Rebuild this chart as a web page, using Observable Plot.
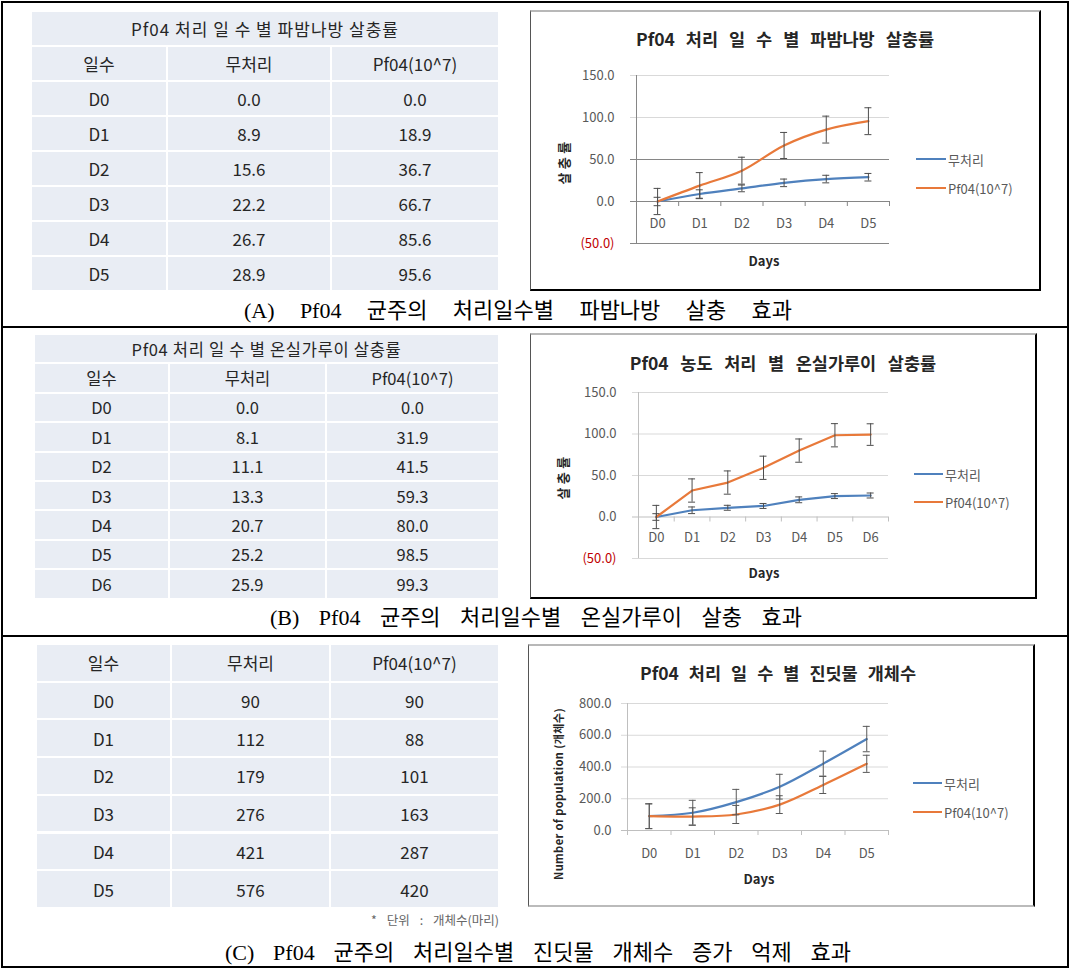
<!DOCTYPE html>
<html><head><meta charset="utf-8">
<script src="https://cdn.jsdelivr.net/npm/d3@7"></script>
<script src="https://cdn.jsdelivr.net/npm/@observablehq/plot@0.6"></script>
<style>
html,body{margin:0;padding:0;background:#fff;}
body{width:1072px;height:969px;position:relative;overflow:hidden;font-family:"Noto Sans CJK KR","Noto Sans",sans-serif;color:#262626;}
.a{position:absolute;white-space:nowrap;box-sizing:border-box;}
.cell{position:absolute;background:#e9edf4;display:flex;align-items:center;justify-content:center;white-space:nowrap;}
</style></head><body>
<script>
// ---------- DATA ----------
const header = ["일수", "무처리", "Pf04(10^7)"];
const seriesNames = ["무처리", "Pf04(10^7)"];

const titleA = "Pf04 처리 일 수 별 파밤나방 살충률";
const daysA = ["D0", "D1", "D2", "D3", "D4", "D5"];
const ctrlA = [0.0, 8.9, 15.6, 22.2, 26.7, 28.9];
const pfA = [0.0, 18.9, 36.7, 66.7, 85.6, 95.6];
const ctrlErrA = [5, 5, 4, 4.5, 4.5, 4.5];
const pfErrA = [15.6, 15.5, 16, 15.5, 16, 16];

const tableTitleB = "Pf04 처리 일 수 별 온실가루이 살충률";
const chartTitleB = "Pf04 농도 처리 별 온실가루이  살충률";
const daysB = ["D0", "D1", "D2", "D3", "D4", "D5", "D6"];
const ctrlB = [0.0, 8.1, 11.1, 13.3, 20.7, 25.2, 25.9];
const pfB = [0.0, 31.9, 41.5, 59.3, 80.0, 98.5, 99.3];
const ctrlErrB = [4, 4, 3, 3, 3.5, 3, 3];
const pfErrB = [14, 14, 14, 14, 14, 14, 13];

const chartTitleC = "Pf04 처리 일 수 별 진딧물 개체수";
const daysC = ["D0", "D1", "D2", "D3", "D4", "D5"];
const ctrlC = [90, 112, 179, 276, 421, 576];
const pfC = [90, 88, 101, 163, 287, 420];
const ctrlErrC = [78, 78, 80, 78, 79, 80];
const pfErrC = [78, 55, 57, 56, 54, 54];
const noteC = "* 단위 : 개체수(마리)";

const yTicksPct = [-50, 0, 50, 100, 150];
const yTicksPop = [0, 200, 400, 600, 800];

const captionA = "(A) Pf04 균주의 처리일수별 파밤나방 살충 효과";
const captionB = "(B) Pf04 균주의 처리일수별 온실가루이 살충 효과";
const captionC = "(C) Pf04 균주의 처리일수별 진딧물 개체수 증가 억제 효과";
const yLabelPct = "살충률";
const yLabelPop = "Number of population (개체수)";
const xLabel = "Days";

// ---------- HELPERS ----------
const BLUE = "#4f81bd", ORANGE = "#e8793a";
function el(style, text, parent = document.body) {
  const e = document.createElement("div");
  e.className = "a";
  Object.assign(e.style, style);
  if (text != null) e.textContent = text;
  parent.appendChild(e);
  return e;
}
function fitWidth(e, target, mode) {
  const w = e.getBoundingClientRect().width;
  const t = e.textContent;
  if (mode === "word") {
    const n = (t.match(/ /g) || []).length;
    if (n) e.style.wordSpacing = ((target - w) / n) + "px";
  } else {
    const n = t.length;
    e.style.letterSpacing = ((target - w) / n) + "px";
  }
}
function centerAt(e, cx, cy) {
  const r = e.getBoundingClientRect();
  e.style.left = (cx - r.width / 2) + "px";
  e.style.top = (cy - r.height / 2) + "px";
}
function textAt(text, cx, cy, style, target, mode) {
  const e = el(Object.assign({left: "0px", top: "0px"}, style), text);
  if (target) fitWidth(e, target, mode);
  centerAt(e, cx, cy);
  return e;
}

// ---------- FRAME ----------
el({left: "1px", top: "1px", width: "1068px", height: "967px", border: "2px solid #000"});
el({left: "1px", top: "326px", width: "1068px", height: "2px", background: "#000"});
el({left: "1px", top: "635px", width: "1068px", height: "2px", background: "#000"});

// ---------- TABLES ----------
function table({left, top, cols, rowH, gap, title, titleW, rows, fontSize}) {
  let y = top;
  const total = cols.reduce((a, b) => a + b, 0) + gap * (cols.length - 1);
  const mk = (x, w, h, txt) => {
    const c = document.createElement("div");
    c.className = "cell";
    Object.assign(c.style, {left: x + "px", top: y + "px", width: w + "px", height: h + "px", fontSize: fontSize + "px"});
    const s = document.createElement("span");
    s.textContent = txt;
    c.appendChild(s);
    document.body.appendChild(c);
    return s;
  };
  if (title) {
    const s = mk(left, total, rowH, title);
    const w = s.getBoundingClientRect().width;
    s.style.letterSpacing = ((titleW - w) / title.length) + "px";
    y += rowH + gap;
  }
  for (const r of rows) {
    let x = left;
    r.forEach((t, k) => { mk(x, cols[k], rowH, t); x += cols[k] + gap; });
    y += rowH + gap;
  }
}
const f1 = v => v.toFixed(1);
table({left: 32, top: 12, cols: [134, 162, 166], rowH: 33, gap: 2, fontSize: 17, title: titleA, titleW: 268,
  rows: [header, ...daysA.map((d, i) => [d, f1(ctrlA[i]), f1(pfA[i])])]});
table({left: 35, top: 335, cols: [133, 155, 171], rowH: 27.4, gap: 2, fontSize: 16.5, title: tableTitleB, titleW: 270,
  rows: [header, ...daysB.map((d, i) => [d, f1(ctrlB[i]), f1(pfB[i])])]});
table({left: 37, top: 645, cols: [133, 157, 167], rowH: 35.7, gap: 2, fontSize: 17, title: null,
  rows: [header, ...daysC.map((d, i) => [d, String(ctrlC[i]), String(pfC[i])])]});
textAt(noteC, 435, 919, {fontSize: "12.5px", color: "#666"}, 128, "word");

// ---------- CAPTIONS ----------
const capStyle = {fontFamily: "'Liberation Serif','DejaVu Serif','Noto Sans CJK KR',serif", fontSize: "22px", color: "#000"};
textAt(captionA, 518, 308, capStyle, 548, "word");
textAt(captionB, 536, 615, capStyle, 532, "word");
textAt(captionC, 538, 950, capStyle, 626, "word");

// ---------- CHARTS ----------
function drawChart(c) {
  el({left: c.x + "px", top: c.y + "px", width: c.w + "px", height: c.h + "px",
      borderTop: "2px solid #b8b8b8", borderLeft: "1px solid #555", borderRight: "2px solid #000",
      borderBottom: "2px solid " + c.bottomColor});
  const n = c.days.length;
  const pw = c.w - c.ml - c.mr, ph = c.h - c.mt - c.mb;
  const bandPx = pw / n;
  const ppu = ph / (c.yDomain[1] - c.yDomain[0]);
  const cap = 3.5 / bandPx, tickOut = 6 / bandPx, tickDown = 5 / ppu;
  const rows = [];
  c.series.forEach(s => s.values.forEach((v, i) => rows.push({s: s.name, i, v, e: s.errs[i], color: s.color})));
  const fmt = v => v < 0 ? `(${(-v).toFixed(1)})` : v.toFixed(1);
  const svg = Plot.plot({
    width: c.w, height: c.h, marginLeft: c.ml, marginRight: c.mr, marginTop: c.mt, marginBottom: c.mb,
    x: {domain: [-0.5, n - 0.5], axis: null},
    y: {domain: c.yDomain, axis: null},
    color: {type: "identity"},
    style: {background: "transparent", fontFamily: "'Noto Sans CJK KR','Noto Sans',sans-serif", fontSize: "13px", overflow: "visible"},
    marks: [
      Plot.ruleY(c.yTicks, {x1: -0.5 - tickOut, x2: n - 0.5, stroke: d => c.gridColor(d)}),
      Plot.ruleX([-0.5], {y1: c.yDomain[0], y2: c.yDomain[1], stroke: c.axisColor}),
      Plot.ruleX(d3.range(n + 1).map(k => k - 0.5), {y1: 0, y2: -tickDown, stroke: c.axisColor}),
      Plot.line(rows, {x: "i", y: "v", z: "s", stroke: "color", strokeWidth: 2.2, curve: c.curve}),
      Plot.ruleX(rows, {x: "i", y1: d => d.v - d.e, y2: d => d.v + d.e, stroke: c.errColor, strokeWidth: 1}),
      Plot.ruleY(rows, {y: d => d.v + d.e, x1: d => d.i - cap, x2: d => d.i + cap, stroke: c.errColor, strokeWidth: 1}),
      Plot.ruleY(rows, {y: d => d.v - d.e, x1: d => d.i - cap, x2: d => d.i + cap, stroke: c.errColor, strokeWidth: 1}),
      Plot.text(c.yTicks, {y: d => d, frameAnchor: "left", dx: c.ytdx, textAnchor: "end", text: fmt,
        fill: d => d < 0 ? "#c00000" : "#595959"}),
      Plot.text(c.days, {x: (d, i) => i, y: 0, dy: c.xtdy, text: d => d, fill: "#595959"})
    ]
  });
  Object.assign(svg.style, {position: "absolute", left: c.x + "px", top: c.y + "px"});
  document.body.appendChild(svg);
  textAt(c.title, c.titleX, c.titleY, {fontSize: "17.5px", fontWeight: "bold", color: "#262626"}, c.titleW, "word");
  textAt(xLabel, c.daysX, c.daysY, {fontSize: "13px", fontWeight: "bold", color: "#262626"});
  const yl = textAt(c.yLabel, c.ylX, c.ylY, {fontSize: c.ylSize, fontWeight: "bold", color: "#262626"}, c.ylW, "letter");
  yl.style.transform = "rotate(-90deg)";
  c.series.forEach((s, k) => {
    const ly = c.legY[k];
    el({left: c.legX1 + "px", top: (ly - 1) + "px", width: (c.legX2 - c.legX1) + "px", height: "2.2px", background: s.color});
    const t = el({left: (c.legX2 + 2) + "px", top: "0px", fontSize: "13px", color: "#595959"}, s.name);
    t.style.top = (ly - t.getBoundingClientRect().height / 2) + "px";
  });
}

const gridA = v => (v === 150 || v === 100) ? "#d9d9d9" : "#868686";
drawChart({
  x: 530, y: 10, w: 511, h: 281, ml: 106, mr: 152, mt: 65, mb: 48,
  days: daysA, yDomain: [-50, 150], yTicks: yTicksPct, gridColor: gridA, axisColor: "#868686",
  errColor: "#4d4d4d", curve: "catmull-rom", ytdx: -22, xtdy: 22, bottomColor: "#000",
  series: [{name: seriesNames[0], values: ctrlA, errs: ctrlErrA, color: BLUE},
           {name: seriesNames[1], values: pfA, errs: pfErrA, color: ORANGE}],
  title: titleA, titleX: 785, titleY: 38, titleW: 298,
  daysX: 764, daysY: 260, yLabel: yLabelPct, ylX: 563, ylY: 161, ylSize: "13px", ylW: 46,
  legX1: 916, legX2: 946, legY: [159, 188]
});
drawChart({
  x: 530, y: 333, w: 507, h: 266, ml: 108, mr: 149, mt: 59, mb: 41,
  days: daysB, yDomain: [-50, 150], yTicks: yTicksPct, gridColor: v => v === 0 ? "#bfbfbf" : "#d9d9d9", axisColor: "#bfbfbf",
  errColor: "#4d4d4d", curve: "linear", ytdx: -22, xtdy: 21, bottomColor: "#000",
  series: [{name: seriesNames[0], values: ctrlB, errs: ctrlErrB, color: BLUE},
           {name: seriesNames[1], values: pfB, errs: pfErrB, color: ORANGE}],
  title: chartTitleB, titleX: 783, titleY: 362, titleW: 314,
  daysX: 764, daysY: 572, yLabel: yLabelPct, ylX: 562, ylY: 476, ylSize: "13px", ylW: 46,
  legX1: 914, legX2: 943, legY: [474, 502]
});
drawChart({
  x: 528, y: 644, w: 507, h: 263, ml: 99, mr: 147, mt: 59, mb: 77,
  days: daysC, yDomain: [0, 800], yTicks: yTicksPop, gridColor: v => v === 0 ? "#bfbfbf" : "#d9d9d9", axisColor: "#bfbfbf",
  errColor: "#595959", curve: "catmull-rom", ytdx: -16, xtdy: 23, bottomColor: "#bbb",
  series: [{name: seriesNames[0], values: ctrlC, errs: ctrlErrC, color: BLUE},
           {name: seriesNames[1], values: pfC, errs: pfErrC, color: ORANGE}],
  title: chartTitleC, titleX: 778, titleY: 672, titleW: 276,
  daysX: 759, daysY: 878, yLabel: yLabelPop, ylX: 558, ylY: 794, ylSize: "11px", ylW: 172,
  legX1: 913, legX2: 942, legY: [783, 812]
});
</script>
</body></html>
